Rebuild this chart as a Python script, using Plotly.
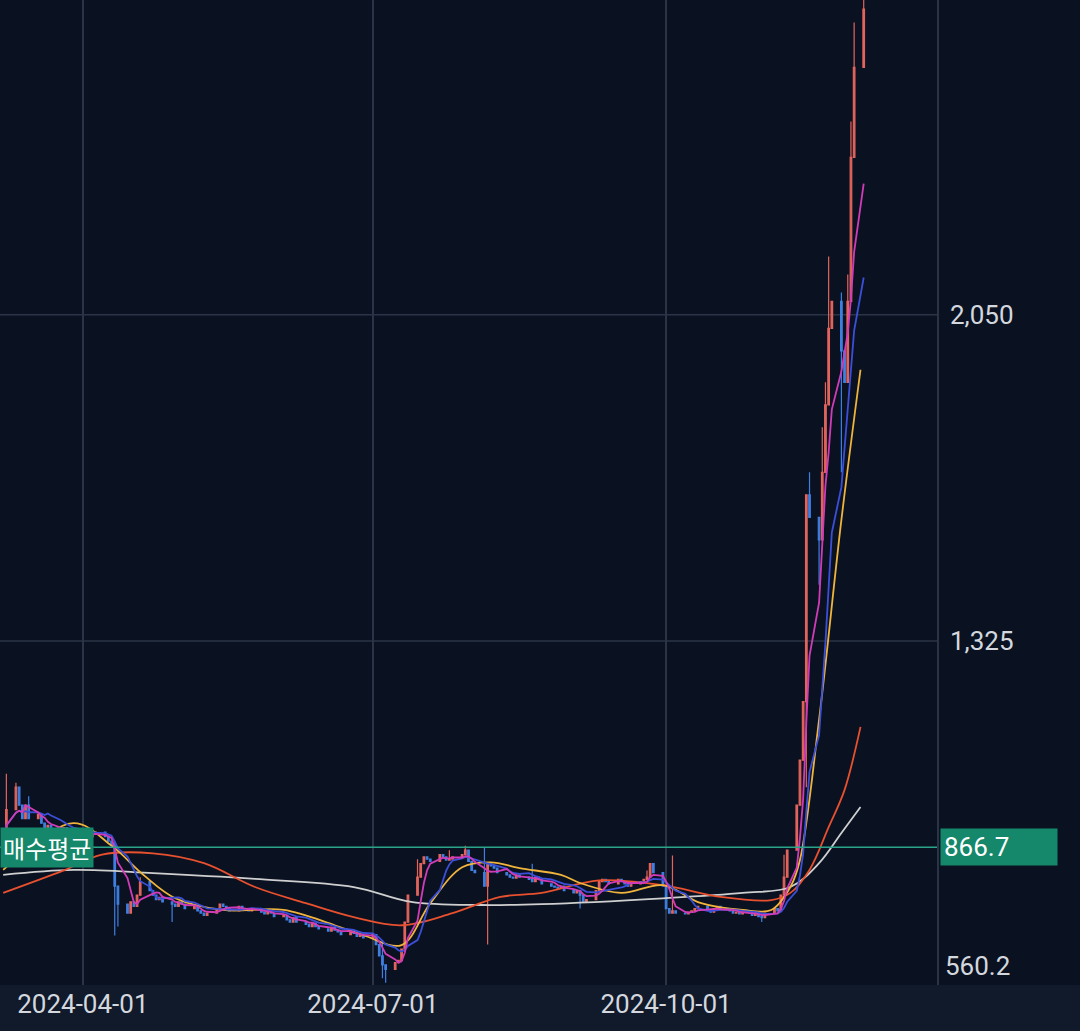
import pandas as pd
import plotly.graph_objects as go

# Daily closes (trading days from 2024-03-07)
closes = [
    880, 950, 1000, 960, 930,   960, 930, 940, 920, 910,   915, 905, 900, 910, 900,
    905, 895, 900, 895, 890,    895, 900, 890, 880, 870,   780, 740, 720, 745, 735,
    760, 790, 770, 760, 750,    755, 745, 740, 735, 745,   740, 730, 735, 725, 720,
    715, 720, 730, 740, 735,    730, 725, 735, 730, 728,   725, 730, 722, 718, 725,
    720, 712, 715, 705, 700,    710, 700, 695, 690, 698,   690, 685, 680, 688, 682,
    678, 672, 680, 675, 668,    670, 665, 672, 650, 625,   605, 595, 610, 615, 640,
    700, 760, 800, 830, 845,    840, 835, 850, 845, 838,   840, 845, 850, 860, 835,
    815, 810, 780, 830, 825,    820, 810, 805, 800, 798,   805, 800, 795, 790, 800,
    795, 785, 780, 778, 775,    780, 770, 765, 770, 760,   745, 750, 770, 790, 795,
    790, 785, 795, 790, 785,    780, 785, 790, 795, 800,   830, 810, 780, 730, 720,
    725, 720, 718, 722, 725,    730, 735, 728, 722, 730,   735, 728, 725, 720, 722,
    718, 722, 715, 720, 712,    710, 720, 730, 725, 760,   800, 860, 960, 1060, 1190,
    1650, 1600, 1550, 1700, 1850,   2020, 2080, 1970, 1900, 2080,   2400, 2600, 2730,
]
# notable wick extremes (trading-day index -> value)
high_spikes = {1: 1030, 2: 1010, 6: 980, 25: 880, 31: 800, 85: 655, 92: 840, 100: 860,
               103: 870, 107: 865, 118: 830, 144: 815, 150: 848, 175: 850, 178: 1000,
               179: 1100, 180: 1650, 181: 1700, 183: 1800, 184: 1900, 185: 2180,
               187: 2100, 189: 2140, 190: 2480, 191: 2700, 192: 2760}
low_spikes = {25: 670, 26: 690, 37: 700, 85: 575, 86: 565, 108: 650, 129: 730, 150: 720,
              170: 700, 180: 1000, 182: 1450, 185: 1850, 187: 1700}

dates = pd.bdate_range("2024-03-07", periods=len(closes))
opens = [closes[0]] + closes[:-1]
highs = [max(o, c, high_spikes.get(i, 0)) for i, (o, c) in enumerate(zip(opens, closes))]
lows = [min(o, c, low_spikes.get(i, 99999)) for i, (o, c) in enumerate(zip(opens, closes))]

s = pd.Series(closes, index=dates)
ma5 = s.rolling(5, min_periods=1).mean()
ma10 = s.rolling(10, min_periods=1).mean()

ma20_dates = ["2024-03-07", "2024-03-29", "2024-04-10", "2024-04-20", "2024-04-30", "2024-05-15",
              "2024-06-03", "2024-06-19", "2024-06-28", "2024-07-10", "2024-07-19", "2024-07-29",
              "2024-08-07", "2024-08-16", "2024-08-29", "2024-09-04", "2024-09-17", "2024-09-30",
              "2024-10-12", "2024-10-25", "2024-11-03", "2024-11-09", "2024-11-12", "2024-11-18",
              "2024-11-25", "2024-12-01"]
ma20_vals = [816, 920, 870, 805, 753, 727, 727, 693, 671, 649, 742, 822, 833, 820, 805, 787,
             765, 782, 742, 727, 727, 778, 838, 1150, 1594, 1928]
ma60_dates = ["2024-03-07", "2024-03-26", "2024-04-07", "2024-04-23", "2024-05-09", "2024-05-25",
              "2024-06-10", "2024-06-25", "2024-07-10", "2024-07-26", "2024-08-10", "2024-08-23",
              "2024-09-10", "2024-09-30", "2024-10-18", "2024-11-03", "2024-11-09", "2024-11-15",
              "2024-11-21", "2024-11-26", "2024-12-01"]
ma60_vals = [765, 815, 850, 853, 831, 778, 742, 711, 693, 720, 756, 765, 793, 782, 756, 749,
             765, 816, 911, 994, 1134]
ma120_dates = ["2024-03-07", "2024-03-29", "2024-04-23", "2024-05-25", "2024-06-25", "2024-07-13",
               "2024-08-04", "2024-08-23", "2024-09-30", "2024-10-25", "2024-11-09", "2024-11-18",
               "2024-11-25", "2024-12-01"]
ma120_vals = [805, 816, 809, 796, 778, 745, 738, 740, 753, 765, 778, 831, 898, 956]

avg_price = 866.7
y_min, y_max = 560.2, 2750
grid_vals = [1325, 2050]
tick_vals = [1325, 2050]
tick_text = ["1,325", "2,050"]
x_ticks = ["2024-04-01", "2024-07-01", "2024-10-01"]

BG = "#0a1222"
GRID = "#2a3446"
TXT = "#d4d8de"
fig = go.Figure()
fig.add_trace(go.Candlestick(
    x=dates, open=opens, high=highs, low=lows, close=closes,
    increasing=dict(line=dict(color="#e2645c", width=1.2), fillcolor="#e2645c"),
    decreasing=dict(line=dict(color="#3f7fe0", width=1.2), fillcolor="#3f7fe0"),
    whiskerwidth=0, showlegend=False))
fig.add_trace(go.Scatter(x=ma120_dates, y=ma120_vals, mode="lines", line=dict(color="#cfcfcf", width=1.8, shape="spline"), showlegend=False))
fig.add_trace(go.Scatter(x=ma60_dates, y=ma60_vals, mode="lines", line=dict(color="#e8502e", width=1.8, shape="spline"), showlegend=False))
fig.add_trace(go.Scatter(x=ma20_dates, y=ma20_vals, mode="lines", line=dict(color="#f0b43c", width=1.8, shape="spline"), showlegend=False))
fig.add_trace(go.Scatter(x=dates, y=ma10, mode="lines", line=dict(color="#3b4fd8", width=1.8), showlegend=False))
fig.add_trace(go.Scatter(x=dates, y=ma5, mode="lines", line=dict(color="#d23bb8", width=1.8), showlegend=False))

for g in grid_vals:
    fig.add_hline(y=g, line=dict(color=GRID, width=1.5), layer="below")
fig.add_hline(y=avg_price, line=dict(color="#2aa58a", width=1.5))
fig.add_shape(type="rect", xref="paper", yref="paper", x0=0, x1=1.2, y0=-0.06, y1=0, fillcolor="#101a2b", line_width=0, layer="below")
fig.add_annotation(x=0, xref="paper", xanchor="left", y=avg_price, text="매수평균", showarrow=False,
                   font=dict(color="white", size=24, family="Noto Sans CJK KR"), bgcolor="#15876a", borderpad=2)
fig.add_annotation(x=1.0, xref="paper", xanchor="left", xshift=3, y=avg_price, text="866.7       ", showarrow=False, align="left",
                   font=dict(color="white", size=26, family="Roboto"), bgcolor="#15876a", borderpad=3)
fig.add_annotation(x=1.0, xref="paper", xanchor="left", xshift=6, y=y_min, yanchor="bottom", yshift=2,
                   text=f"{y_min}", showarrow=False, font=dict(color=TXT, size=26, family="Roboto"))

fig.update_layout(
    width=1080, height=1031, paper_bgcolor=BG, plot_bgcolor=BG,
    margin=dict(l=0, r=143, t=0, b=46, pad=0),
    xaxis=dict(type="date", range=["2024-03-06", "2024-12-25"], tickvals=x_ticks, ticktext=x_ticks,
               showgrid=True, gridcolor=GRID, gridwidth=1.5, rangeslider=dict(visible=False),
               tickfont=dict(color=TXT, size=26, family="Roboto"), zeroline=False, ticklabelstandoff=1),
    yaxis=dict(side="right", range=[y_min, y_max], tickvals=tick_vals, ticktext=tick_text,
               showgrid=False, zeroline=False,
               showline=True, linecolor=GRID, linewidth=1.5,
               tickfont=dict(color=TXT, size=26, family="Roboto"), ticklabelstandoff=6),
)
fig.write_html("out.html", config={"displayModeBar": False},
               post_script="document.body.style.margin='0';document.body.style.background='#0a1222';")
